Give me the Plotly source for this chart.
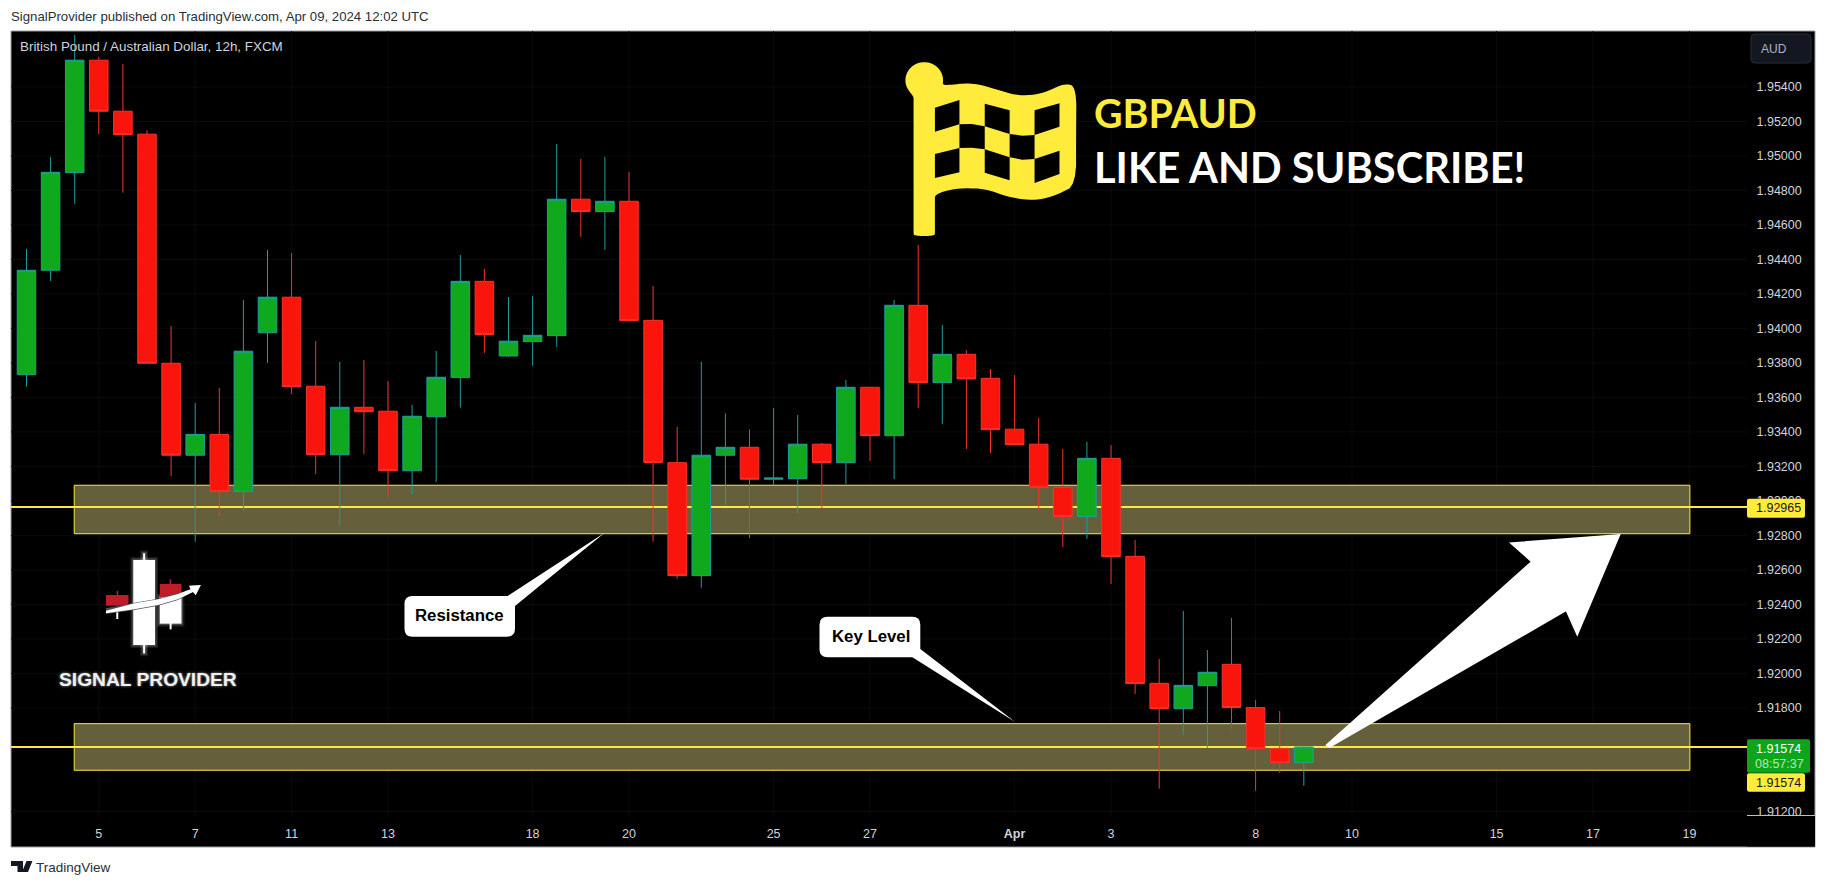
import math
import plotly.graph_objects as go

W, H = 1826, 886

# ---------- data ----------
candle_index = list(range(54))
opens = [1.93732,1.94337,1.94903,1.95555,1.95259,1.95126,1.93798,1.93265,1.93386,1.93054,
         1.93975,1.94181,1.93665,1.93268,1.93543,1.93520,1.93175,1.93488,1.93715,1.94273,
         1.93840,1.93923,1.93958,1.94749,1.94677,1.94737,1.94047,1.93222,1.92567,1.93265,
         1.93311,1.93126,1.93129,1.93329,1.93222,1.93659,1.93378,1.94134,1.93686,1.93850,
         1.93711,1.93416,1.93329,1.93079,1.92909,1.93247,1.92679,1.91943,1.91796,1.91929,
         1.92053,1.91802,1.91564,1.91483]
highs = [1.94461,1.94994,1.95701,1.95574,1.95533,1.95149,1.94014,1.93568,1.93655,1.94165,
         1.94455,1.94437,1.93927,1.93806,1.93817,1.93695,1.93556,1.93869,1.94426,1.94345,
         1.94182,1.94188,1.95069,1.94982,1.94994,1.94907,1.94246,1.93429,1.93806,1.93508,
         1.93415,1.93539,1.93498,1.93336,1.93701,1.93659,1.94165,1.94484,1.94020,1.93875,
         1.93765,1.93730,1.93481,1.93301,1.93342,1.93324,1.92774,1.92084,1.92362,1.92136,
         1.92322,1.91846,1.91782,1.91584]
lows = [1.93662,1.94275,1.94722,1.95127,1.94787,1.93798,1.93145,1.92764,1.92913,1.92942,
        1.93800,1.93620,1.93156,1.92855,1.93272,1.93025,1.93040,1.93110,1.93541,1.93858,
        1.93835,1.93784,1.93893,1.94530,1.94455,1.94045,1.92764,1.92549,1.92497,1.92977,
        1.92785,1.93091,1.92932,1.92957,1.93098,1.93232,1.93127,1.93539,1.93446,1.93301,
        1.93278,1.93326,1.92949,1.92733,1.92780,1.92519,1.91881,1.91332,1.91643,1.91568,
        1.91680,1.91320,1.91425,1.91349]
closes = [1.94337,1.94905,1.95555,1.95259,1.95123,1.93798,1.93265,1.93386,1.93054,1.93868,
          1.94181,1.93662,1.93268,1.93543,1.93517,1.93175,1.93491,1.93717,1.94273,1.93964,
          1.93926,1.93960,1.94749,1.94677,1.94737,1.94045,1.93222,1.92567,1.93265,1.93311,
          1.93126,1.93133,1.93329,1.93222,1.93659,1.93378,1.94134,1.93686,1.93850,1.93707,
          1.93413,1.93326,1.93079,1.92909,1.93247,1.92677,1.91941,1.91796,1.91931,1.92007,
          1.91802,1.91564,1.91483,1.91574]

price_ticks = [1.912,1.918,1.920,1.922,1.924,1.926,1.928,1.930,1.932,1.934,
               1.936,1.938,1.940,1.942,1.944,1.946,1.948,1.950,1.952,1.954]
date_tick_index = [3,7,11,15,21,25,31,35,41,45,51,55,61,65,69]
date_tick_labels = ["5","7","11","13","18","20","25","27","<b>Apr</b>","3","8","10","15","17","19"]

level_prices = [1.92965, 1.91574]
zone_upper = [1.92810, 1.93091]
zone_lower = [1.91439, 1.91709]
zone_index = [1.98, 69.02]
X_RANGE = [-0.643, 71.39]
Y_RANGE = [1.91168, 1.95724]

# ---------- helpers (page pixels -> paper) ----------
fx = lambda x: x / W
fy = lambda y: 1 - y / H

def poly(pts, close=True):
    s = "M" + " L".join(f"{fx(x):.6f},{fy(y):.6f}" for x, y in pts)
    return s + (" Z" if close else "")

def chaikin(pts, n=2):
    for _ in range(n):
        out = []
        for i, p in enumerate(pts):
            q = pts[(i + 1) % len(pts)]
            out.append((0.75 * p[0] + 0.25 * q[0], 0.75 * p[1] + 0.25 * q[1]))
            out.append((0.25 * p[0] + 0.75 * q[0], 0.25 * p[1] + 0.75 * q[1]))
        pts = out
    return pts

def rrect(x0, y0, x1, y1, r):
    rx, ry = r / W, r / H
    a, b, c, d = fx(x0), fx(x1), fy(y0), fy(y1)
    return (f"M{a+rx},{c} L{b-rx},{c} Q{b},{c} {b},{c-ry} L{b},{d+ry} Q{b},{d} {b-rx},{d} "
            f"L{a+rx},{d} Q{a},{d} {a},{d+ry} L{a},{c-ry} Q{a},{c} {a+rx},{c} Z")

shapes, notes = [], []

def pshape(path, fill, line=None, lw=0, layer="above"):
    shapes.append(dict(type="path", xref="paper", yref="paper", path=path, fillcolor=fill,
                       line=dict(color=line or "rgba(0,0,0,0)", width=lw), layer=layer))

def prect(x0, y0, x1, y1, fill, line=None, lw=0, layer="above"):
    shapes.append(dict(type="rect", xref="paper", yref="paper", x0=fx(x0), x1=fx(x1), y0=fy(y0), y1=fy(y1),
                       fillcolor=fill, line=dict(color=line or "rgba(0,0,0,0)", width=lw), layer=layer))

def text(t, x, y, size, color, family="Liberation Sans", anchor="left", **font):
    notes.append(dict(text=t, x=fx(x), y=fy(y), xref="paper", yref="paper", showarrow=False, xanchor=anchor,
                      yanchor="middle", borderpad=0, borderwidth=0,
                      font=dict(size=size, color=color, family=family, **font)))

YELLOW = "#ffeb3b"
BORDER = "#9a9da6"
GRID = "#0b0b0b"

# chart frame
prect(11, 31, 1815, 847, "#000000", BORDER, 1, "below")

# faint grid, then zones and level lines, all behind the candles
for i in date_tick_index:
    shapes.append(dict(type="line", xref="x", yref="paper", x0=i, x1=i, y0=fy(817), y1=fy(31),
                       line=dict(color=GRID, width=1), layer="below"))
for p in price_ticks:
    shapes.append(dict(type="line", xref="x", yref="y", x0=X_RANGE[0], x1=X_RANGE[1], y0=p, y1=p,
                       line=dict(color=GRID, width=1), layer="below"))
for z in (zone_upper, zone_lower):
    shapes.append(dict(type="rect", xref="x", yref="y", x0=zone_index[0], x1=zone_index[1], y0=z[0], y1=z[1],
                       fillcolor="#655f3c", line=dict(color=YELLOW, width=1), layer="below"))
for p in level_prices:
    shapes.append(dict(type="line", xref="x", yref="y", x0=X_RANGE[0], x1=X_RANGE[1], y0=p, y1=p,
                       line=dict(color=YELLOW, width=2), layer="below"))

# price axis chrome
prect(1747, 815, 1815, 846.5, "#000000")
prect(1747, 815, 1815, 815.8, "#ffffff")
pshape(rrect(1751, 34, 1811, 63, 4), "#131722", "#2a2e39", 1)
text("AUD", 1760.5, 48.5, 12, "#b2b5be")
pshape(rrect(1747, 498.7, 1805, 517.7, 2), YELLOW)
text("1.92965", 1756, 508.5, 12.5, "#131722")
pshape(rrect(1747, 739.3, 1810, 772.7, 2), "#0da61a")
text("1.91574", 1756, 748.5, 12.5, "#ffffff")
text("08:57:37", 1755, 763.5, 12.5, "#b8e6bc")
pshape(rrect(1747, 773.3, 1805, 791.7, 2), YELLOW)
text("1.91574", 1756, 782.5, 12.5, "#131722")

# header / footer text
text("SignalProvider published on TradingView.com, Apr 09, 2024 12:02 UTC", 11, 16.5, 13.2, "#2a2e39")
text("British Pound / Australian Dollar, 12h, FXCM", 20, 46.5, 13.4, "#d1d4dc")
text("TradingView", 36, 867, 13.5, "#2a2e39")
pshape(poly([(11,861),(23,861),(23,872),(17.5,872),(17.5,866),(11,866)]), "#131722")
pshape(poly([(32.4,861),(28,872),(22,872),(26.5,861)]), "#131722")

# flag
z2 = lambda x, y: (600 + x / 2.529, y / 3)
circle = [(820 + 48 * math.cos(math.radians(a)), 241 + 55 * math.sin(math.radians(a))) for a in range(150, 385, 15)]
flag_outline = [(793,290)] + circle + [
    (892,254),(920,250),(950,252),(975,258),(1020,275),(1060,287),(1100,284),(1130,275),(1175,250),
    (1205,260),(1204,400),(1204,555),(1160,582),(1120,597),(1085,601),(1030,590),(975,567),(920,564),
    (880,570),(847,584),(847,600),(847,695),(847,697),(846,708),(794,708),(793,697),(793,695),(793,300)]
pshape(poly([z2(*p) for p in chaikin(flag_outline, 2)]), YELLOW)
flag_cells = [
    [(847,323),(909,300),(909,373),(847,395)],
    [(973,311),(1036,331),(1036,402),(973,379)],
    [(1099,331),(1162,310),(1162,380),(1099,405)],
    [(909,373),(940,372),(973,379),(973,448),(940,443),(909,444)],
    [(1036,402),(1068,407),(1099,405),(1099,477),(1068,479),(1036,472)],
    [(847,462),(909,444),(909,517),(847,534)],
    [(973,448),(1036,472),(1036,541),(973,518)],
    [(1099,477),(1162,452),(1162,522),(1099,549)],
]
for c in flag_cells:
    pshape(poly([z2(*p) for p in c]), "#000000")
text("GBPAUD", 1094, 113, 39.4, YELLOW, "Lato", weight=700)
text("LIKE AND SUBSCRIBE!", 1094, 167, 41.6, "#ffffff", "Lato", weight=700)

# signal provider logo
z4 = lambda x, y: (x / 2.529, 440 + y / 3)
def zrect(a, b, c, d, fill, glow=True):
    (x0, y0), (x1, y1) = z4(a, b), z4(c, d)
    if glow:
        prect(x0 - 3, y0 - 3, x1 + 3, y1 + 3, "rgba(255,255,255,0.10)")
        prect(x0 - 1.5, y0 - 1.5, x1 + 1.5, y1 + 1.5, "rgba(255,255,255,0.20)")
    prect(x0, y0, x1, y1, fill)
zrect(362, 340, 367, 640, "#ffffff")
zrect(337, 360, 392, 615, "#ffffff")
zrect(294, 515, 299, 537, "#ffffff", False)
zrect(429, 540, 434, 568, "#ffffff", False)
zrect(404, 470, 459, 551, "#ffffff")
zrect(295, 453, 299, 468, "#c01c28", False)
zrect(429, 418, 433, 435, "#c01c28", False)
zrect(268, 465, 325, 497, "#c01c28", False)
pshape(poly([z4(*p) for p in [(404,432),(459,432),(459,458),(404,474)]]), "#c01c28")
pshape(poly([z4(*p) for p in [(268,505),(340,488),(400,476),(450,460),(484,447),(478,437),(508,435),(495,466),(488,456),
                              (450,480),(400,497),(340,510),(268,522)]]), "#4a4d52")
pshape(poly([z4(*p) for p in [(268,512),(340,490),(400,478),(450,462),(482,448),(478,437),(508,435),(495,466),(488,456),
                              (450,478),(400,495),(340,508),(268,520)]]), "#ffffff")
text("SIGNAL PROVIDER", 59, 679, 19.2, "#f0f0f0", "Liberation Sans", weight=700, shadow="0 0 3px rgba(255,255,255,0.6)")

# callouts
pshape(rrect(404.5, 596, 515, 636.7, 8), "#ffffff")
pshape(poly([(506, 597), (605, 532.5), (515, 606)]), "#ffffff")
text("Resistance", 459.7, 615.5, 16.8, "#000000", "Liberation Sans", "center", weight=700)
pshape(rrect(819.5, 616.7, 920.3, 657.3, 8), "#ffffff")
pshape(poly([(912.4, 657.3), (1015.2, 722), (920.3, 649)]), "#ffffff")
text("Key Level", 870.9, 636, 16.8, "#000000", "Liberation Sans", "center", weight=700)

# big arrow
z6 = lambda x, y: (1200 + x / 2.505, 440 + y / 3)
pshape(poly([z6(*p) for p in [(318,915),(832,365),(780,310),(1050,285),(945,583),(918,510),(325,920)]]),
       "#ffffff", "#ffffff", 2)

fig = go.Figure(go.Candlestick(
    x=candle_index, open=opens, high=highs, low=lows, close=closes,
    increasing=dict(line=dict(color="#1f9f9a", width=1), fillcolor="#10a81c"),
    decreasing=dict(line=dict(color="#f2362c", width=1), fillcolor="#f9140c"),
    hoverinfo="skip", showlegend=False))

fig.update_layout(
    width=W, height=H, margin=dict(l=0, r=0, t=0, b=0),
    paper_bgcolor="#ffffff", plot_bgcolor="#000000",
    boxgap=0.23, boxgroupgap=0, shapes=shapes, annotations=notes, showlegend=False,
    font=dict(family="Liberation Sans"),
    xaxis=dict(domain=[fx(11), fx(1747)], range=X_RANGE, rangeslider=dict(visible=False), automargin=False,
               tickmode="array", tickvals=date_tick_index, ticktext=date_tick_labels,
               ticks="outside", ticklen=5, tickcolor="rgba(0,0,0,0)",
               tickfont=dict(size=12.5, color="#d1d4dc"), showgrid=False, zeroline=False,
               showline=False),
    yaxis=dict(domain=[fy(817), fy(31)], range=Y_RANGE, side="right", automargin=False,
               tickmode="array", tickvals=price_ticks, tickformat=".5f",
               ticks="outside", ticklen=6, tickcolor="rgba(0,0,0,0)",
               tickfont=dict(size=12.5, color="#d1d4dc"), showgrid=False, zeroline=False,
               showline=False),
)

fig.write_html("out.html", config=dict(displayModeBar=False),
               post_script="document.body.style.margin='0';document.body.style.overflow='hidden';")
